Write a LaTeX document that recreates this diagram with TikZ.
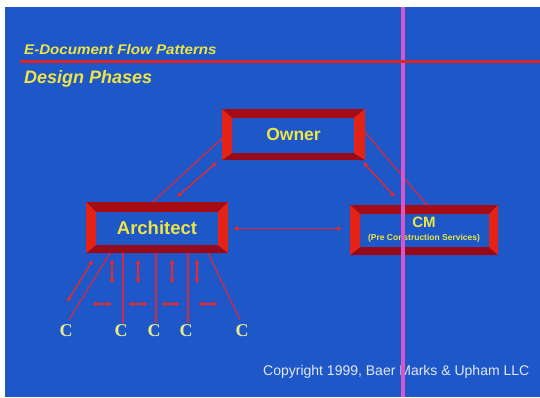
\documentclass[tikz,border=0pt]{standalone}
\usepackage{fontspec}
\setmainfont{Liberation Sans}
\newfontfamily\titlefont[FakeStretch=1.08]{Liberation Sans}
\newfontfamily\serifC{Liberation Serif}
\usetikzlibrary{calc,arrows.meta}
\definecolor{bgblue}{RGB}{30,88,200}
\definecolor{txtyellow}{RGB}{238,228,70}
\definecolor{cyellow}{RGB}{236,236,140}
\definecolor{facebright}{RGB}{228,34,22}
\definecolor{facedark}{RGB}{165,12,22}
\definecolor{facedarker}{RGB}{150,10,28}
\definecolor{linkred}{RGB}{205,42,72}
\definecolor{arrowred}{RGB}{235,40,40}
\definecolor{magentaline}{RGB}{214,86,204}
\definecolor{titlered}{RGB}{218,38,38}
\definecolor{copytext}{RGB}{228,232,242}
\newcommand{\myboxframe}[5]{%
  \fill[facedark] (#1.north west) -- (#1.north east) -- ($(#1.north east)+(-#4,#3)$) -- ($(#1.north west)+(#2,#3)$) -- cycle;
  \fill[facedarker] (#1.south west) -- (#1.south east) -- ($(#1.south east)+(-#4,-#5)$) -- ($(#1.south west)+(#2,-#5)$) -- cycle;
  \fill[facebright] (#1.north west) -- ($(#1.north west)+(#2,#3)$) -- ($(#1.south west)+(#2,-#5)$) -- (#1.south west) -- cycle;
  \fill[facebright] (#1.north east) -- ($(#1.north east)+(-#4,#3)$) -- ($(#1.south east)+(-#4,-#5)$) -- (#1.south east) -- cycle;
}
\tikzset{
  boxnode/.style={inner sep=0pt, outer sep=0pt, text=txtyellow, font=\bfseries},
  clabel/.style={inner sep=1pt, text=cyellow, font=\serifC\bfseries\fontsize{18}{18}\selectfont},
  link/.style={draw=linkred, line width=1.3pt},
  dbl/.style={draw=arrowred, line width=1.3pt, {Latex[length=5pt,width=5pt]}-{Latex[length=5pt,width=5pt]}},
}
\begin{document}
\begin{tikzpicture}[x=1pt,y=-1pt]
\useasboundingbox (0,0) rectangle (540,397);
\fill[white] (0,0) rectangle (540,397);
\fill[bgblue] (5,7) rectangle (540,397);

% titles
\node[anchor=base west, inner sep=0pt, text=txtyellow, font=\titlefont\bfseries\itshape\fontsize{14}{16}\selectfont] (title) at (24,54) {E-Document Flow Patterns};
\node[anchor=base west, inner sep=0pt, text=txtyellow, font=\bfseries\itshape\fontsize{18}{20}\selectfont] (phase) at (24,83) {Design Phases};

% boxes
\node[boxnode, minimum width=143pt, minimum height=51pt, font=\bfseries\fontsize{17.5}{18}\selectfont] (owner) at (293.5,134.5) {Owner};
\node[boxnode, minimum width=142pt, minimum height=51pt, font=\bfseries\fontsize{18.5}{19}\selectfont] (architect) at (157,227.5) {Architect};
\node[boxnode, minimum width=148pt, minimum height=50pt, align=center, font=\bfseries\fontsize{15}{15}\selectfont] (cm) at (424,230) {CM\\[-2pt]{\fontsize{8.5}{9}\selectfont (Pre Construction Services)}};
\myboxframe{owner}{10}{9}{11}{7}
\myboxframe{architect}{10}{10}{10}{8}
\myboxframe{cm}{10}{9}{9}{8}

% C labels
\node[clabel] (c1) at (66,331) {C};
\node[clabel] (c2) at (121,331) {C};
\node[clabel] (c3) at (154,331) {C};
\node[clabel] (c4) at (186,331) {C};
\node[clabel] (c5) at (242,331) {C};

% owner - architect
\draw[link] (owner.183) -- (architect.99);
\draw[dbl] ($(owner.south west)+(-5,2)$) -- ($(architect.north)+(20,-5)$);
% owner - cm
\draw[link] (owner.2) -- (cm.83);
\draw[dbl] ($(owner.south east)+(-2,2)$) -- ($(cm.north west)+(45,-8)$);
% architect - cm
\draw[dbl] ($(architect.east)+(5,1)$) -- ($(cm.west)+(-8,-1.5)$);

% architect - consultants
\draw[link] ($(architect.south west)+(24,0)$) -- ($(c1.north)+(3,-4)$);
\draw[link] ($(architect.south west)+(37,0)$) -- ($(c2.north)+(2,-1)$);
\draw[link] ($(architect.south west)+(70,0)$) -- ($(c3.north)+(2,-1)$);
\draw[link] ($(architect.south west)+(102,0)$) -- ($(c4.north)+(2,-1)$);
\draw[link] ($(architect.south west)+(122,0)$) -- ($(c5.north)+(-2,-4)$);

\draw[dbl] ($(architect.south west)+(7,7)$) -- ($(architect.south west)+(-19,49)$);
\foreach \dx in {26,52,86,111}{
  \draw[dbl] ($(architect.south west)+(\dx,6)$) -- ($(architect.south west)+(\dx,31)$);
}
\foreach \a/\b in {6/26,42/62,75/94,112/132}{
  \draw[dbl] ($(architect.south west)+(\a,51)$) -- ($(architect.south west)+(\b,51)$);
}

% copyright
\node[anchor=base west, inner sep=0pt, text=copytext, font=\fontsize{14}{16}\selectfont] (copy) at (263,375) {Copyright 1999, Baer Marks \& Upham LLC};

% overlay lines
\fill[magentaline] (400.5,7) rectangle (404.5,397);
\fill[titlered] (20,60) rectangle (540,63);
\end{tikzpicture}
\end{document}
